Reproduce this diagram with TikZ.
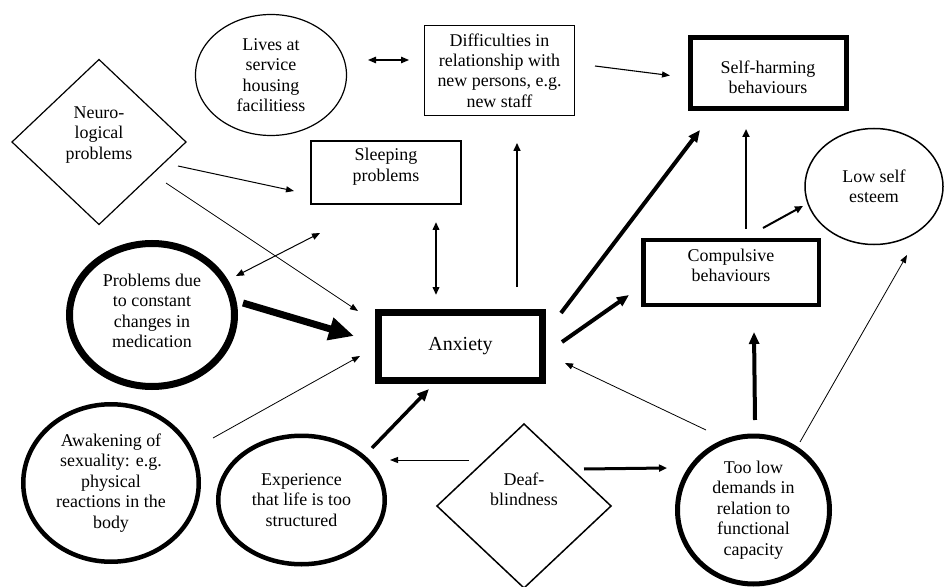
\documentclass[tikz,border=0pt]{standalone}
\usepackage{fontspec}
\setmainfont{Liberation Serif}
\usetikzlibrary{shapes.geometric,arrows.meta}
\begin{document}
\begin{tikzpicture}[x=1bp,y=-1bp,
  txt/.style={font=\fontsize{18}{20.5}\selectfont, align=center, inner sep=0pt, outer sep=0pt},
  box/.style={txt, draw, rectangle},
  oval/.style={txt, draw, ellipse},
  rhomb/.style={txt, draw, diamond},
  thinarr/.style={line width=0.8bp, -{Triangle[length=8bp,width=6bp]}},
  medarr/.style={line width=1.6bp, -{Triangle[length=8bp,width=7bp]}},
  boldarr/.style={line width=3.5bp, -{Triangle[length=12bp,width=10bp]}},
  heavyarr/.style={line width=7bp, -{Triangle[length=25bp,width=22bp]}},
  both/.style={line width=#1, {Triangle[length=8bp,width=6.5bp]}-{Triangle[length=8bp,width=6.5bp]}},
]
\useasboundingbox (0,0) rectangle (944,587);

% factors and outcomes
\node[oval, line width=1.2bp, minimum width=151bp, minimum height=121bp] (lives) at (271,75)
  {Lives at\\service\\housing\\facilitiess};
\node[box, line width=1.5bp, minimum width=150bp, minimum height=90bp] (diff) at (499.5,70.5)
  {Difficulties in\\relationship with\\new persons, e.g.\\new staff};
\node[box, line width=5bp, minimum width=156bp, minimum height=71bp,
  label={[txt,yshift=-4bp]center:{Self-harming\\behaviours}}] (self) at (768,73) {};
\node[rhomb, line width=1.2bp, minimum width=174bp, minimum height=165bp,
  label={[txt,yshift=7bp]center:{Neuro-\\logical\\problems}}] (neuro) at (99,142) {};
\node[box, line width=1.8bp, minimum width=150bp, minimum height=63bp,
  label={[txt,yshift=6bp]center:{Sleeping\\problems}}] (sleep) at (386,172.5) {};
\node[oval, line width=1.5bp, minimum width=138bp, minimum height=116bp] (low) at (874,186.5)
  {Low self\\esteem};
\node[box, line width=4.5bp, minimum width=175.5bp, minimum height=64.5bp,
  label={[txt,yshift=7bp]center:{Compulsive\\behaviours}}] (compul) at (731,272.5) {};
\node[box, line width=7bp, minimum width=164bp, minimum height=68bp,
  font=\fontsize{20}{22}\selectfont] (anx) at (460.5,346.5) {Anxiety};
\node[oval, line width=7bp, minimum width=165bp, minimum height=143bp,
  label={[txt,yshift=4bp]center:{Problems due\\to constant\\changes in\\medication}}] (prob) at (152,315) {};
\node[oval, line width=4.5bp, minimum width=175.5bp, minimum height=157.5bp] (awak) at (111,483)
  {Awakening of\\sexuality: e.g.\\physical\\reactions in the\\body};
\node[oval, line width=4.5bp, minimum width=166.5bp, minimum height=128.5bp] (exper) at (301.5,500)
  {Experience\\that life is too\\structured};
\node[rhomb, line width=1.5bp, minimum width=174bp, minimum height=164bp,
  label={[txt,yshift=17bp]center:{Deaf-\\blindness}}] (deaf) at (524,506) {};
\node[oval, line width=5bp, minimum width=152bp, minimum height=148bp] (toolow) at (753.5,510)
  {Too low\\demands in\\relation to\\functional\\capacity};

% connectors
\draw[both=1.3bp] ([shift={(97,-15)}]lives.center) -- ([shift={(-90.5,-10.5)}]diff.center);
\draw[thinarr, line width=1.1bp] ([shift={(95.5,-4.5)}]diff.center) -- ([shift={(-98,2.5)}]self.center);
\draw[thinarr, line width=1bp] ([shift={(79,24)}]neuro.center) -- ([shift={(-92,18.5)}]sleep.center);
\draw[thinarr] ([shift={(67,41)}]neuro.center) -- ([shift={(-102.5,-35.5)}]anx.center);
\draw[both=1bp] ([shift={(84,-39)}]prob.center) -- ([shift={(-66,60.5)}]sleep.center);
\draw[both=2bp] ([shift={(50,49.5)}]sleep.center) -- ([shift={(-24.5,-51.5)}]anx.center);
\draw[medarr] ([shift={(56.5,-59.5)}]anx.center) -- ([shift={(17.5,72.5)}]diff.center);
\draw[boldarr, line width=4bp] ([shift={(100.5,-33.5)}]anx.center) -- ([shift={(-68,57)}]self.center);
\draw[boldarr, line width=4bp] ([shift={(101.5,-4.5)}]anx.center) -- ([shift={(-102,22.5)}]compul.center);
\draw[medarr, line width=2bp] ([shift={(15,-43.5)}]compul.center) -- ([shift={(-22,56)}]self.center);
\draw[medarr, line width=2bp] ([shift={(32,-44.5)}]compul.center) -- ([shift={(-71,19.5)}]low.center);
\draw[thinarr] ([shift={(46.5,-68)}]toolow.center) -- ([shift={(33,68.5)}]low.center);
\draw[boldarr, line width=4bp] ([shift={(1.5,-90)}]toolow.center) -- ([shift={(23,59.5)}]compul.center);
\draw[thinarr] ([shift={(-47.5,-80)}]toolow.center) -- ([shift={(104.5,16.5)}]anx.center);
\draw[medarr, line width=3bp] ([shift={(60,-37)}]deaf.center) -- ([shift={(-86.5,-42)}]toolow.center);
\draw[thinarr, line width=1bp] ([shift={(-55,-46)}]deaf.center) -- ([shift={(88.5,-40)}]exper.center);
\draw[boldarr] ([shift={(70.5,-52)}]exper.center) -- ([shift={(-31.5,42.5)}]anx.center);
\draw[thinarr] ([shift={(102,-45)}]awak.center) -- ([shift={(-100.5,9.5)}]anx.center);
\draw[heavyarr] ([shift={(91,-12)}]prob.center) -- ([shift={(-106.5,-10.5)}]anx.center);
\end{tikzpicture}
\end{document}
